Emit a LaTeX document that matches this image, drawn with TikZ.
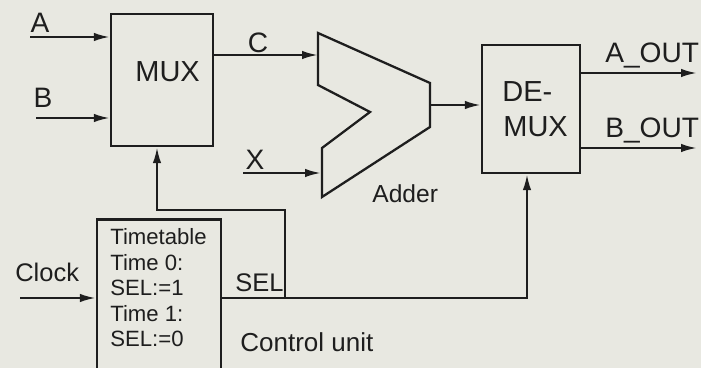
\documentclass[tikz,border=0pt]{standalone}
\usepackage{fontspec}
\setmainfont{Liberation Sans}
\usetikzlibrary{arrows.meta,positioning,calc}
\definecolor{paper}{RGB}{232,232,225}
\definecolor{ink}{RGB}{30,30,30}

\begin{document}
\begin{tikzpicture}[x=0.02cm,y=-0.02cm,
    block/.style={draw=ink, line width=1.3pt, fill=paper, inner sep=0pt},
    wire/.style={draw=ink, line width=1.3pt},
    sig/.style={wire, -{Latex[length=0.32cm,width=0.17cm]}},
    lbl/.style={anchor=base, inner sep=0pt, text=ink, font=\fontsize{16}{19}\selectfont},
    txt/.style={anchor=base west, inner sep=0pt, text=ink, font=\fontsize{14.5}{17}\selectfont}
  ]
  \fill[paper] (0,0) rectangle (701,368);
  \clip (0,0) rectangle (701,368);

  % blocks
  \node[block, minimum width=2.04cm, minimum height=2.64cm] (mux) at (162,80) {};
  \node[block, minimum width=1.96cm, minimum height=2.56cm] (demux) at (531,109) {};
  \node[block, minimum width=2.48cm, minimum height=3.1cm] (ctrl) at (159,297) {};
  \node[txt, font=\fontsize{16.5}{19}\selectfont] (muxtxt) at (135,82) {MUX};
  \node[txt, font=\fontsize{16.5}{19}\selectfont] (demuxtxt1) at (502,102) {DE-};
  \node[txt, font=\fontsize{16.5}{19}\selectfont] (demuxtxt2) at (503,137) {MUX};
  \node[anchor=north west, inner sep=0pt, align=left, text=ink,
        font=\fontsize{12.6}{14.5}\selectfont] (table) at (110,228.5)
    {Timetable\\Time 0:\\SEL:=1\\Time 1:\\SEL:=0};

  % adder
  \draw[wire, fill=paper] (318,33) -- (430,83) -- (430,127) -- (322,197)
    -- (322,148) -- (370,112) -- (318,85) -- cycle;
  \coordinate (addA) at (318,55);
  \coordinate (addB) at (321,173);
  \coordinate (addOut) at (430,105);

  % inputs and outputs
  \coordinate (inA) at (30,37);
  \coordinate (inB) at (36,118);
  \coordinate (inX) at (243,173);
  \coordinate (clk) at (20,298);
  \coordinate (outA) at (697,73);
  \coordinate (outB) at (697,148);
  \draw[sig] (inA) -- (inA -| mux.west);
  \draw[sig] (inB) -- (inB -| mux.west);
  \draw[sig] (mux.east |- addA) -- (addA);
  \draw[sig] (inX) -- (addB);
  \draw[sig] (addOut) -- (addOut -| demux.west);
  \draw[sig] (demux.east |- outA) -- (outA);
  \draw[sig] (demux.east |- outB) -- (outB);
  \draw[sig] (clk) -- (clk -| ctrl.west);

  % SEL lines
  \coordinate (selA) at (285,298);
  \coordinate (selB) at (285,210);
  \coordinate (muxSel) at (157,210);
  \coordinate (demuxSel) at (527,298);
  \draw[sig] (ctrl.east |- selA) -- (selA) -- (selB) -- (muxSel) -- (muxSel |- mux.south);
  \draw[sig] (selA) -- (demuxSel) -- (demuxSel |- demux.south);

  % labels
  \node[lbl] (labA) at (40,33) {A};
  \node[lbl] (labB) at (43,108) {B};
  \node[lbl] (labC) at (258,53) {C};
  \node[lbl] (labX) at (255,170) {X};
  \node[txt, font=\fontsize{16}{19}\selectfont] (labAout) at (605,63) {A\_OUT};
  \node[txt, font=\fontsize{16}{19}\selectfont] (labBout) at (605,138) {B\_OUT};
  \node[txt] (labSel) at (235,292) {SEL};
  \node[txt] (labClk) at (15,282) {Clock};
  \node[txt, font=\fontsize{14}{17}\selectfont] (labAdd) at (372,203) {Adder};
  \node[txt, font=\fontsize{14.8}{17}\selectfont] (labCtrl) at (240,352) {Control unit};
\end{tikzpicture}
\end{document}
